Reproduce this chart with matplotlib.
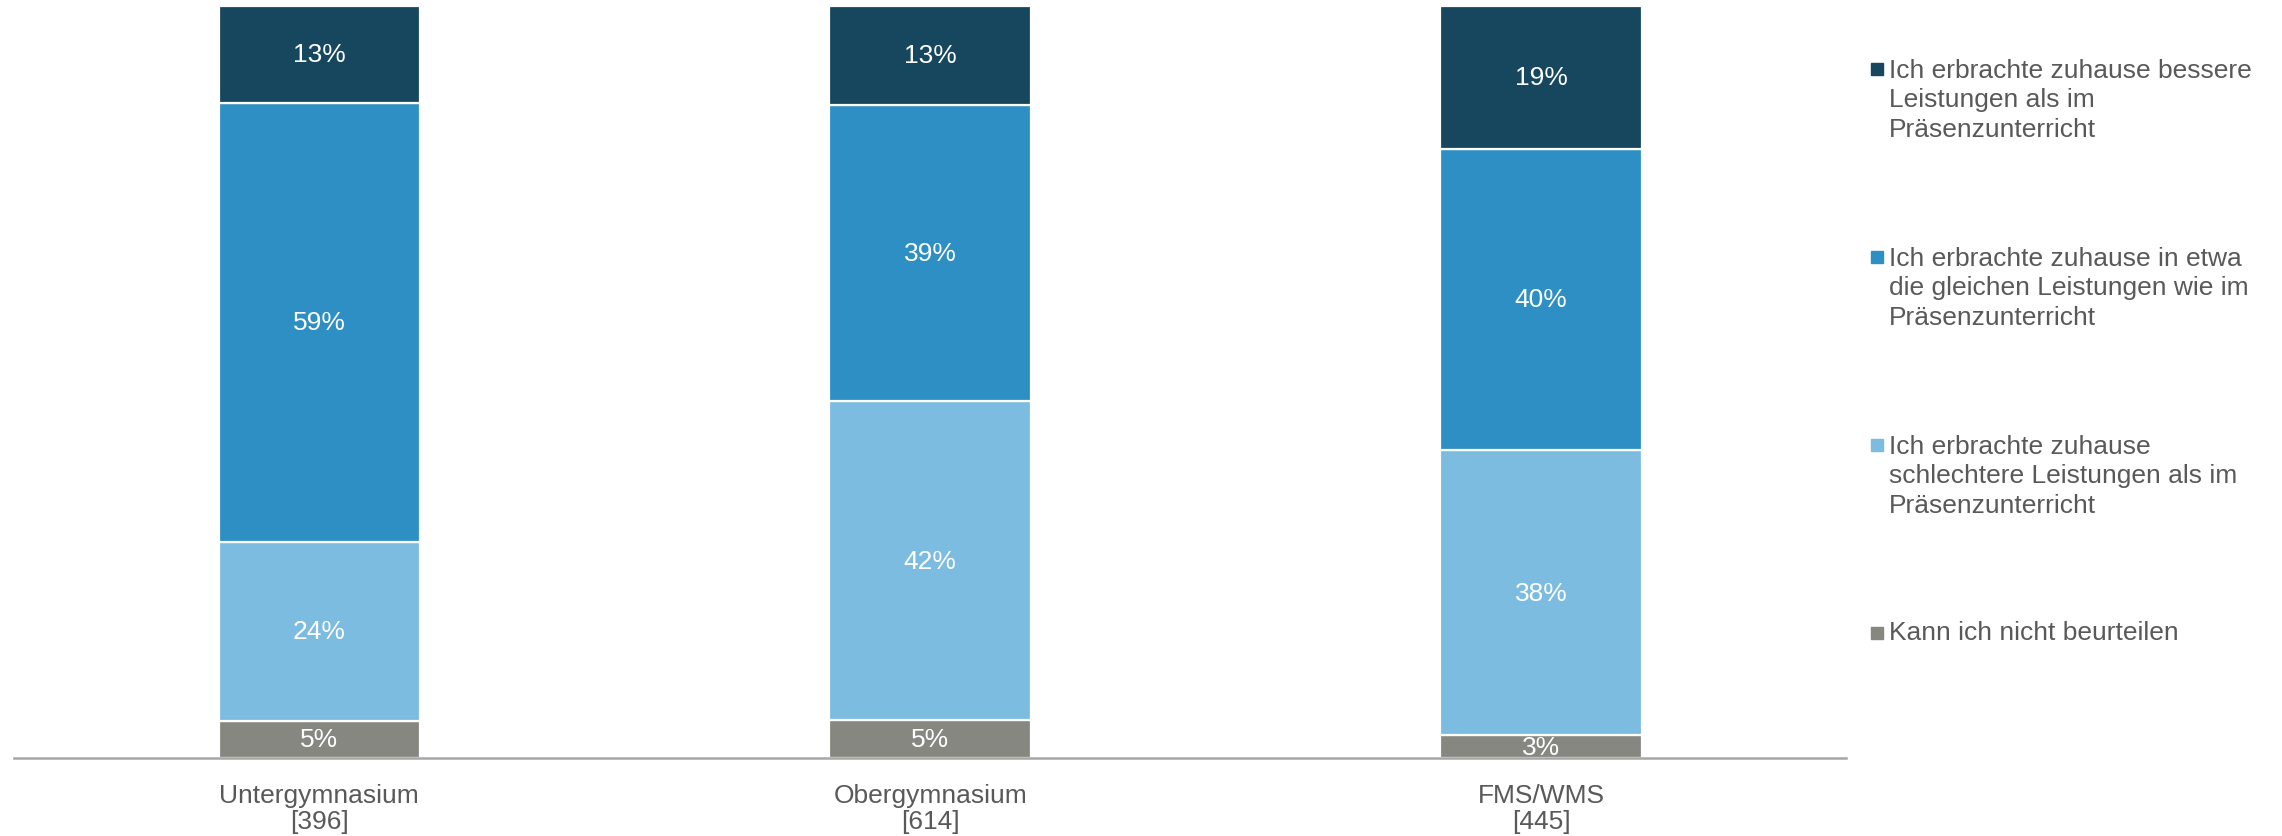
import numpy as np
from matplotlib import pyplot as plt
from matplotlib.patches import Rectangle

plt.rcParams['font.family'] = ['Liberation Sans', 'DejaVu Sans']

groups = ['Untergymnasium\n[396]', 'Obergymnasium\n[614]', 'FMS/WMS\n[445]']
# stacked from the bottom up
series = ['Kann ich nicht beurteilen',
          'Ich erbrachte zuhause\nschlechtere Leistungen als im\nPräsenzunterricht',
          'Ich erbrachte zuhause in etwa\ndie gleichen Leistungen wie im\nPräsenzunterricht',
          'Ich erbrachte zuhause bessere\nLeistungen als im\nPräsenzunterricht']
kann_nicht = [5, 5, 3]
schlechter = [24, 42, 38]
gleich = [59, 39, 40]
besser = [13, 13, 19]
colors = ['#868780', '#7cbce0', '#2d8fc3', '#16475f']

values = np.array([kann_nicht, schlechter, gleich, besser], dtype=float)
shares = values / values.sum(axis=0) * 100

fig = plt.figure(figsize=(22.82, 8.37), dpi=100)
ax = fig.add_axes([0.0061, 0.0932, 0.803, 0.8984])

x = np.arange(len(groups))
bottom = np.zeros(len(groups))
for i in range(len(series)):
    ax.bar(x, shares[i], 0.33, bottom=bottom, color=colors[i],
           edgecolor='white', linewidth=1.6)
    for j in range(len(groups)):
        ax.text(x[j], bottom[j] + shares[i][j] / 2, '%d%%' % values[i][j],
                ha='center', va='center', color='white', fontsize=19)
    bottom += shares[i]

ax.set_xlim(-0.5, 2.5)
ax.set_ylim(0, 100)
ax.set_yticks([])
ax.set_xticks(x)
ax.set_xticklabels(groups, fontsize=19, color='#595959', linespacing=1.1)
ax.tick_params(axis='x', length=0, pad=18)
for s in ['top', 'right', 'left']:
    ax.spines[s].set_visible(False)
ax.spines['bottom'].set_color('#a6a6a6')
ax.spines['bottom'].set_linewidth(1.8)

# legend, top entry first, marker aligned with first text line
W, H = 2282.0, 837.0
leg_y = [70, 258, 446, 634]
line_h = 30.5
for k, i in enumerate(range(len(series) - 1, -1, -1)):
    y = leg_y[k]
    fig.patches.append(Rectangle((1871 / W, 1 - (y + 6) / H), 12 / W, 12 / H,
                                 transform=fig.transFigure, color=colors[i]))
    # va='baseline' sits on the last line, so shift down by the extra lines
    n_extra = series[i].count('\n')
    fig.text(1889 / W, 1 - (y + 6 + n_extra * line_h) / H, series[i],
             ha='left', va='baseline', fontsize=19, color='#595959',
             linespacing=1.29)

plt.savefig('out.png', dpi=100)
